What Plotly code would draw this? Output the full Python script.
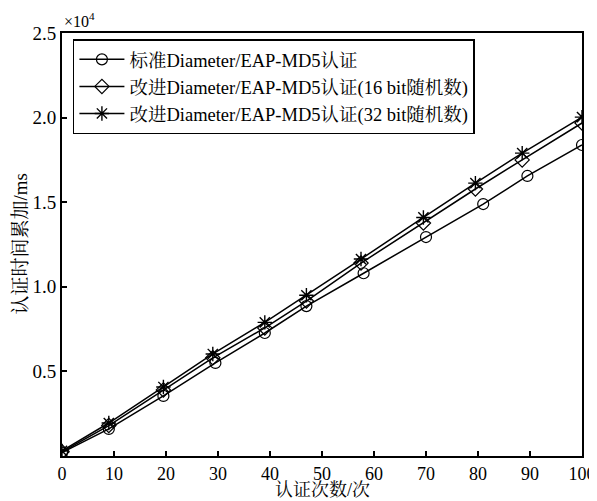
import plotly.graph_objects as go

# Data (values in ms)
x_std = [0, 9, 19.5, 29.5, 39, 47, 58, 70, 81, 89.5, 100]
y_std = [200, 1600, 3550, 5500, 7270, 8860, 10800, 12940, 14890, 16550, 18380]

x_imp = [0, 9, 19.5, 29, 39, 47, 57.5, 69.5, 79.5, 88.5, 100]
y_16 = [250, 1800, 3900, 5800, 7570, 9160, 11400, 13770, 15780, 17500, 19680]
y_32 = [300, 1950, 4080, 6030, 7900, 9500, 11640, 14100, 16130, 17900, 20030]

names = ["标准Diameter/EAP-MD5认证",
         "改进Diameter/EAP-MD5认证(16 bit随机数)",
         "改进Diameter/EAP-MD5认证(32 bit随机数)"]

y_tickvals = [5000, 10000, 15000, 20000, 25000]
y_ticktext = ["0.5", "1.0", "1.5", "2.0", "2.5"]
x_tickvals = [0, 10, 20, 30, 40, 50, 60, 70, 80, 90, 100]

x_title = "认证次数/次"
y_title = "认证时间累加/ms"

FONT = "Liberation Serif, Noto Serif CJK SC, Noto Sans CJK SC, serif"

fig = go.Figure()
fig.add_trace(go.Scatter(x=x_std, y=y_std, name=names[0], mode="lines+markers",
                         line=dict(color="black", width=1.5),
                         marker=dict(symbol="circle-open", size=11, color="black",
                                     line=dict(width=1.2, color="black"))))
fig.add_trace(go.Scatter(x=x_imp, y=y_16, name=names[1], mode="lines+markers",
                         line=dict(color="black", width=1.5),
                         marker=dict(symbol="diamond-open", size=11, color="black",
                                     line=dict(width=1.2, color="black"))))
fig.add_trace(go.Scatter(x=x_imp, y=y_32, name=names[2], mode="lines+markers",
                         line=dict(color="black", width=1.5),
                         marker=dict(symbol="asterisk-open", size=12, color="black",
                                     line=dict(width=1.4, color="black"))))

# page body has an 8px default margin, so the figure is sized to fit the window
fig.update_layout(
    width=589, height=493,
    margin=dict(l=54, r=15, t=25, b=45, autoexpand=False),
    paper_bgcolor="white", plot_bgcolor="white",
    font=dict(family=FONT, size=18, color="black"),
    showlegend=True,
    legend=dict(x=0.021, y=0.985, xanchor="left", yanchor="top",
                bgcolor="white", bordercolor="black", borderwidth=1.5,
                font=dict(family=FONT, size=18.5, color="black"),
                itemwidth=45, tracegroupgap=0),
    xaxis=dict(range=[0, 100], tickvals=x_tickvals, ticks="inside", ticklen=5,
               tickwidth=1.5, tickcolor="black", automargin=False,
               showline=True, linecolor="black", linewidth=2, mirror=True,
               showgrid=False, zeroline=False,
               tickfont=dict(family=FONT, size=18)),
    yaxis=dict(range=[0, 25000], tickvals=y_tickvals, ticktext=y_ticktext,
               ticks="inside", ticklen=5, tickwidth=1.5, tickcolor="black",
               automargin=False,
               showline=True, linecolor="black", linewidth=2, mirror=True,
               showgrid=False, zeroline=False,
               tickfont=dict(family=FONT, size=19)),
    annotations=[
        dict(text="×10<sup>4</sup>", xref="paper", yref="paper",
             x=0, y=1, xanchor="left", yanchor="bottom", yshift=1,
             showarrow=False, font=dict(family=FONT, size=16)),
        dict(text=x_title, xref="paper", yref="paper", x=0.5, y=0,
             xanchor="center", yanchor="bottom", yshift=-45, borderpad=0,
             showarrow=False, font=dict(family=FONT, size=18)),
        dict(text=y_title, xref="paper", yref="paper", x=0, y=0.5,
             xanchor="center", yanchor="middle", xshift=-42, textangle=-90,
             showarrow=False, font=dict(family=FONT, size=19)),
    ],
)

fig.write_html("out.html")
